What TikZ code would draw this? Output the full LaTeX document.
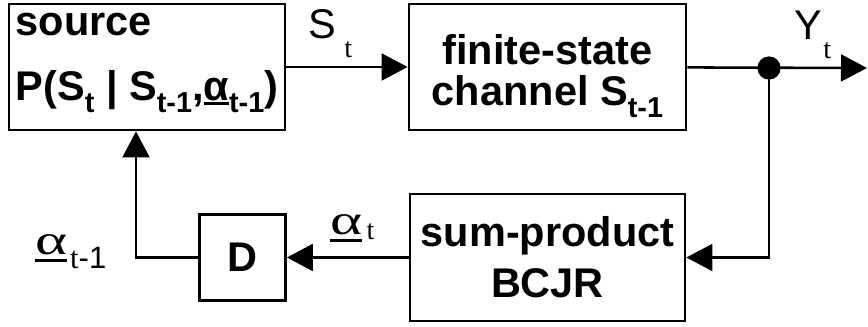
\documentclass[tikz,border=0pt]{standalone}
\usepackage{graphicx}
\usepackage{fontspec}
\setmainfont{Liberation Sans}
\newfontfamily\symfont{Liberation Serif}
\usepackage{tikz}
\usetikzlibrary{positioning, arrows.meta}

% lowered subscripts: bold ones inside the blocks, plain ones on the signals
\newcommand{\bsub}[1]{\raisebox{-0.3cm}{\fontsize{20.5}{20.5}\selectfont #1}}
\newcommand{\lsub}[2][0.45cm]{\raisebox{-#1}{\symfont\fontsize{20}{20}\selectfont #2}}
% underlined alphas
\newcommand{\ualpha}{\setbox0\hbox{\scalebox{1.45}[1]{\symfont\fontsize{30}{30}\selectfont α}}%
  \rlap{\rule[-0.175cm]{\wd0}{2.1pt}}\box0}
\newcommand{\bualpha}{\setbox0\hbox{α}\rlap{\rule[-0.12cm]{\wd0}{2.1pt}}\box0}

\begin{document}
\begin{tikzpicture}[x=0.025cm, y=-0.025cm]

  % Define styles
  \tikzset{
    block/.style={
      draw, line width=1.9pt, inner sep=0pt, align=center,
      font=\fontsize{29.5}{29}\selectfont\bfseries
    },
    signal/.style={inner sep=0pt, anchor=base west, font=\fontsize{29.5}{29}\selectfont},
    link/.style={line width=1.8pt, -{Triangle[length=0.65cm, width=0.67cm]}},
    dot/.style={circle, fill, inner sep=0pt, minimum size=0.58cm}
  }
  \useasboundingbox (0,0) rectangle (868,327);

  % Blocks
  \node (src)   [block, minimum width=6.9cm, minimum height=3.15cm, align=left] at (147,67)
                {source\\[0.6cm]P(S\bsub{t} | S\bsub{t-1},\bualpha\bsub{t-1})\rule[-0.5cm]{0pt}{0pt}};
  \node (chan)  [block, minimum width=6.925cm, minimum height=3.15cm] at (547.5,67)
                {\rule{0pt}{1.2cm}finite-state\\channel S\bsub{t-1}};
  \node (bcjr)  [block, minimum width=6.875cm, minimum height=3.175cm] at (547.5,257.5)
                {sum-product\\[0.25cm]BCJR};
  \node (delay) [block, minimum size=2.15cm] at (242.5,257.5) {D};

  % Junction and bends
  \node (tap) [dot] at (769,68) {};
  \coordinate (out)  at (867,68);
  \coordinate (back) at (136,257.5);

  % Signal labels
  \node (st)   [signal] at (308,39)  {S\kern6pt\lsub{t}};
  \node (yt)   [signal] at (794,40)  {Y\kern1pt\lsub{t}};
  \node (at)   [signal] at (330,235) {\ualpha\kern3pt\lsub[0.1cm]{t}};
  \node (atm)  [signal] at (35,255)  {\ualpha\kern2pt\lsub[0.33cm]{\fontsize{22}{22}\selectfont t{\rmfamily -1}}};

  % Forward path
  \draw[link] (src) -- (chan);
  \draw[link] (chan) -- (out);

  % Feedback loop
  \draw[link] (tap.center) |- (bcjr.east);
  \draw[link] (bcjr) -- (delay);
  \draw[link] (delay.west) -- (back) -- (back |- src.south);

\end{tikzpicture}
\end{document}
